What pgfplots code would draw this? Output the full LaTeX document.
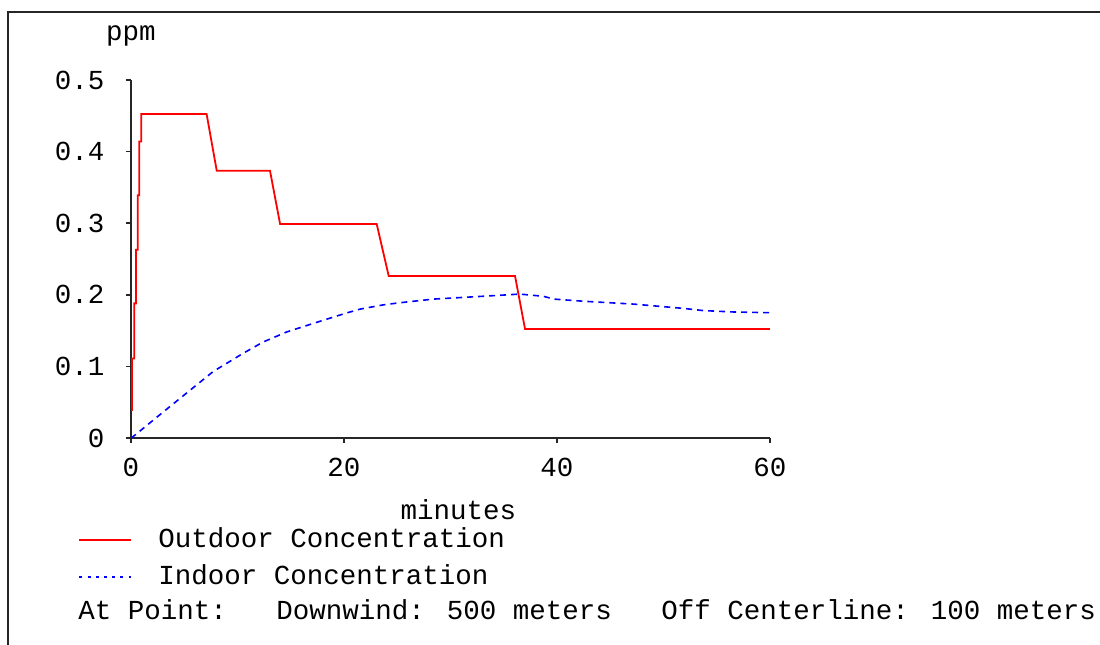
\documentclass[border=0pt]{standalone}
\usepackage{pgfplots}
\pgfplotsset{compat=1.18}
\usepackage{fontspec}
\setmainfont{Liberation Mono}
\begin{document}
\fontsize{13.75pt}{16pt}\selectfont
\begin{tikzpicture}[x=1pt,y=1pt]
\path[use as bounding box] (0,0) rectangle (550,322);
\draw[line width=1.2pt, black!85] (4,-2) -- (4,316) -- (552,316);
\begin{axis}[
  at={(65.5pt,103pt)}, anchor=south west,
  scale only axis, width=319.5pt, height=179pt,
  xmin=0, xmax=60, ymin=0, ymax=0.5,
  axis lines=left, axis line style={-, line width=0.8pt, black!85},
  xtick={0,20,40,60}, ytick={0,0.1,0.2,0.3,0.4,0.5},
  scaled y ticks=false,
  tick align=outside, major tick length=2.5pt,
  tick style={line width=0.8pt, black!85},
  /pgf/number format/assume math mode=true,
  xticklabel style={yshift=-3pt},
  yticklabel style={xshift=-6pt},
  xlabel={minutes},
  xlabel style={at={(axis description cs:0.5,0)}, anchor=center, yshift=-36pt, xshift=4pt},
  ylabel={ppm},
  ylabel style={rotate=-90, at={(axis description cs:0,1)}, anchor=center, yshift=22pt},
  legend image code/.code={\draw[#1] (0pt,0pt) -- (26pt,0pt);},
  legend style={at={(rel axis cs:-0.083,-0.2486)}, anchor=north west, draw=none, fill=none,
    inner sep=0pt, row sep=5.5pt, nodes={inner sep=0pt, text height=10pt, text depth=3pt},
    /tikz/every odd column/.style={column sep=13pt}},
  legend cell align=left,
]
\addplot[red, line width=0.9pt] coordinates {
(0.1,0.038) (0.1,0.111) (0.3,0.111) (0.3,0.188) (0.47,0.188) (0.47,0.263)
(0.63,0.263) (0.63,0.339) (0.78,0.339) (0.78,0.414) (0.97,0.414) (0.97,0.4525)
(7.1,0.4525) (8.05,0.3734) (13.05,0.3734) (14.0,0.2989) (23.07,0.2989)
(24.2,0.2263) (36.06,0.2263) (37.0,0.1522) (60,0.1522)
};
\addlegendentry{Outdoor Concentration}
\addplot[blue, line width=0.8pt, dash pattern=on 3pt off 2.5pt,
  legend image post style={line width=1pt, dash pattern=on 1.5pt off 2.6pt}] coordinates {
(0,0) (0.2,0.002) (3.66,0.044) (7.73,0.093) (10.5,0.118) (12.4,0.134)
(14.6,0.148) (17.1,0.160) (20.1,0.174) (21.5,0.180) (23.7,0.186) (25.3,0.189)
(28.4,0.194) (33.1,0.198) (36.5,0.201) (38.7,0.198) (39.7,0.194) (42.5,0.191)
(47.2,0.187) (51.9,0.181) (53.7,0.178) (56.6,0.176) (60,0.175)
};
\addlegendentry{Indoor Concentration}
\end{axis}
\node[anchor=west, inner sep=0pt] at (39,17) {At Point:\ \ \ Downwind: 500 meters\ \ \ Off Centerline: 100 meters};
\end{tikzpicture}
\end{document}
